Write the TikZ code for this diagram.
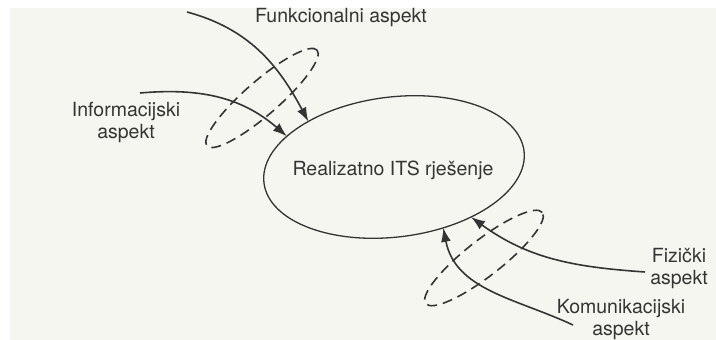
\documentclass[tikz,border=0pt]{standalone}
\usepackage{fontspec}
\setmainfont{TeX Gyre Heros}
\usetikzlibrary{shapes.geometric,arrows.meta}
\definecolor{paper}{HTML}{F6F6F0}
\definecolor{ink}{HTML}{343434}
\tikzset{
  aspect/.style={align=center, text=ink, inner sep=0pt, font=\fontsize{19.5}{22}\selectfont},
  flow/.style={draw=ink, line width=1.6pt, -{Latex[length=14pt,width=10pt]}},
  group/.style={draw=ink, line width=1.6pt, dash pattern=on 10pt off 6pt},
}

\begin{document}
\begin{tikzpicture}[x=1pt,y=1pt]
    % Background
    \fill[white] (0,0) rectangle (716,340);
    \fill[paper] (10,0) rectangle (716,332);
    \useasboundingbox (0,0) rectangle (716,340);

    % Nodes
    \node[ellipse, draw=ink, line width=1.3pt, inner sep=0pt, outer sep=0pt,
          minimum width=262pt, minimum height=140pt, rotate=7] (soln) at (394,173) {};
    \node[aspect] (solntext) at (393,170) {Realizatno ITS rješenje};
    \node[aspect] (funk) at (341,322) {Funkcionalni aspekt};
    \node[aspect] (info) at (126,218) {Informacijski\\aspekt};
    \node[aspect] (fiz) at (679,71) {Fizički\\aspekt};
    \node[aspect] (komu) at (621,20) {Komunikacijski\\aspekt};

    % Free ends
    \coordinate (funkstart) at (187,328);
    \coordinate (infostart) at (140,247);
    \coordinate (fizstart) at (645,68);
    \coordinate (komustart) at (573,15);

    % Edges
    \draw[flow] (funkstart) to[out=-15, in=118] (soln.145);
    \draw[flow] (infostart) to[out=5, in=139] (soln.157);
    \draw[flow] (fizstart) to[out=176, in=-36] (soln.-40);
    \draw[flow] (komustart) to[out=155, in=-79] (soln.-58);

    % Groups
    \draw[group, rotate around={41:(262,242)}] (262,242) ellipse [x radius=73, y radius=17];
    \draw[group, rotate around={38:(484,82)}] (484,82) ellipse [x radius=74, y radius=18];
\end{tikzpicture}
\end{document}
